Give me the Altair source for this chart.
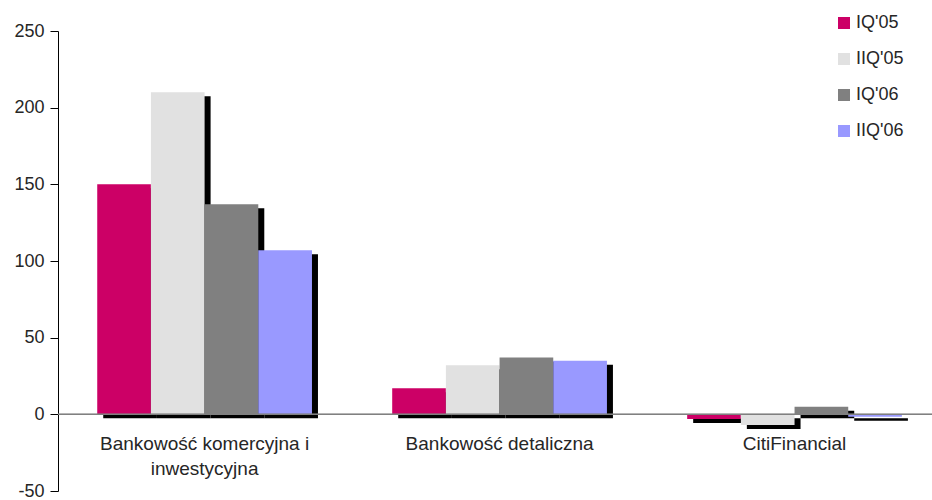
import altair as alt
import pandas as pd

# Segments and quarters
groups = ["Bankowość komercyjna i\ninwestycyjna", "Bankowość detaliczna", "CitiFinancial"]
series = ["IQ'05", "IIQ'05", "IQ'06", "IIQ'06"]
colors = ["#CC0066", "#E1E1E1", "#808080", "#9999FF"]

# Values per quarter, one entry per segment
iq05 = [150, 17, -3]
iiq05 = [210, 32, -7]
iq06 = [137, 37, 5]
iiq06 = [107, 35, -1.5]

values = [iq05, iiq05, iq06, iiq06]
rows = []
for si, (name, vals) in enumerate(zip(series, values)):
    for gi, v in enumerate(vals):
        rows.append({"segment": groups[gi], "gi": gi, "quarter": name, "si": si, "value": v})
df = pd.DataFrame(rows)
labels_df = pd.DataFrame({"segment": groups, "gi": list(range(len(groups)))})

BW = 0.182  # bar width in group units
FONT = "Liberation Sans"
TXT = "#262626"

base = alt.Chart(df).transform_calculate(
    x0=f"datum.gi + (datum.si - 2) * {BW}",
    x1=f"datum.gi + (datum.si - 1) * {BW}",
)

xscale = alt.Scale(domain=[-0.497, 2.466], nice=False, zero=False)
yscale = alt.Scale(domain=[-50, 250], nice=False)

# Drop shadows behind the bars
shadow = base.mark_bar(color="black", xOffset=6, x2Offset=6, yOffset=4, y2Offset=4).encode(
    x=alt.X("x0:Q", scale=xscale, axis=None),
    x2="x1:Q",
    y=alt.Y("value:Q", scale=yscale),
    y2=alt.datum(0),
)

bars = base.mark_bar().encode(
    x=alt.X("x0:Q", scale=xscale, axis=None),
    x2="x1:Q",
    y=alt.Y(
        "value:Q",
        scale=yscale,
        title=None,
        axis=alt.Axis(
            values=[-50, 0, 50, 100, 150, 200, 250],
            labelExpr="toString(datum.value)",
            grid=False,
            domainColor="#000000",
            tickColor="#000000",
            tickSize=8,
            labelPadding=6,
            labelFontSize=18,
            labelFont=FONT,
            labelColor=TXT,
        ),
    ),
    y2=alt.datum(0),
    color=alt.Color(
        "quarter:N",
        scale=alt.Scale(domain=series, range=colors),
        legend=alt.Legend(
            title=None,
            orient="none",
            legendX=777,
            legendY=-17,
            symbolType="square",
            symbolSize=144,
            symbolStrokeWidth=0,
            labelFontSize=18,
            labelFont=FONT,
            labelColor=TXT,
            labelOffset=3,
            rowPadding=18,
            padding=0,
        ),
    ),
)

zero = alt.Chart(labels_df).mark_rule(color="#808080", strokeWidth=1.2).encode(
    x=alt.value(0), x2=alt.value(874), y=alt.datum(0, scale=yscale)
)

cat_labels = alt.Chart(labels_df).mark_text(
    baseline="top", dy=21, fontSize=19, font=FONT, color=TXT, lineBreak="\n", lineHeight=25
).encode(
    x=alt.X("gi:Q", scale=xscale),
    y=alt.datum(0, scale=yscale),
    text="segment:N",
)

chart = alt.layer(shadow, bars, zero, cat_labels).properties(
    width=874,
    height=460,
    padding={"left": 58, "top": 31, "right": 0, "bottom": 9},
    autosize=alt.AutoSizeParams(type="none"),
).configure_view(stroke=None)

chart.save("out.html", embed_options={"renderer": "svg", "actions": False})
